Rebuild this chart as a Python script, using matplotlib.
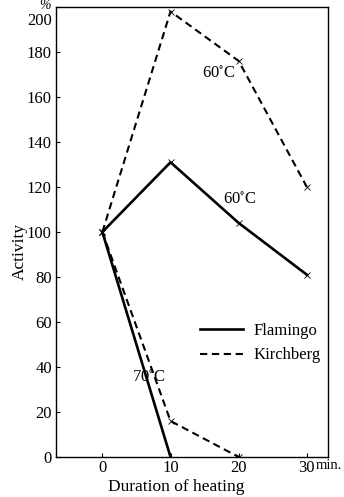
import matplotlib
matplotlib.use('Agg')
import matplotlib.pyplot as plt
from matplotlib.lines import Line2D

# data (minutes of heating vs activity %)
kirch_60_x = [0, 10, 20, 30]
kirch_60_y = [100, 198, 176, 120]
kirch_70_x = [0, 10, 20]
kirch_70_y = [100, 16, 0]
flam_60_x = [0, 10, 20, 30]
flam_60_y = [100, 131, 104, 81]
flam_70_x = [0, 10]
flam_70_y = [100, 0]

x_ticks = [0, 10, 20, 30]
y_ticks = [0, 20, 40, 60, 80, 100, 120, 140, 160, 180, 200]

plt.rcParams['font.family'] = ['Liberation Serif', 'DejaVu Serif']
plt.rcParams['font.size'] = 12
plt.rcParams['mathtext.fontset'] = 'stix'

fig = plt.figure(figsize=(3.44, 4.97), dpi=100)
ax = fig.add_axes([56 / 344, 40 / 497, 272 / 344, 450 / 497])

dash = (3.5, 2.2)
ax.plot(kirch_60_x, kirch_60_y, color='black', lw=1.5, dashes=dash,
        marker='x', ms=5, mew=0.6)
ax.plot(kirch_70_x, kirch_70_y, color='black', lw=1.5, dashes=dash,
        marker='x', ms=5, mew=0.6)
ax.plot(flam_60_x, flam_60_y, color='black', lw=1.9,
        marker='x', ms=5, mew=0.6)
ax.plot(flam_70_x, flam_70_y, color='black', lw=1.9)

ax.set_xlim(-6.8, 33.1)
ax.set_ylim(0, 200)

ax.set_xticks(x_ticks)
ax.set_xticklabels([str(v) for v in x_ticks])
ax.set_yticks(y_ticks)
ax.set_yticklabels([str(v) for v in y_ticks[:-1]] + [''])
ax.tick_params(direction='in', length=3, width=0.8, pad=3)
ax.tick_params(axis='x', pad=2.5)

# 200 label sits just under the top spine, with % above it
ax.annotate('200', xy=(0, 200), xycoords=('axes fraction', 'data'),
            xytext=(-3, -10), textcoords='offset points', ha='right', va='center')
ax.annotate('%', xy=(0, 200), xycoords=('axes fraction', 'data'),
            xytext=(-4, 1), textcoords='offset points', ha='right', va='center',
            style='italic', fontsize=10)
ax.annotate('min.', xy=(1, 0), xycoords='axes fraction',
            xytext=(-9, -6), textcoords='offset points', ha='left', va='center',
            fontsize=10.5)

for sp in ax.spines.values():
    sp.set_linewidth(1.0)

deg = '$^{\\circ}$'
ax.text(17.1, 170, '60' + deg + 'C', ha='center', va='center')
ax.text(20.2, 114.4, '60' + deg + 'C', ha='center', va='center')
ax.text(6.9, 35.2, '70' + deg + 'C', ha='center', va='center')

ax.set_xlabel('Duration of heating', fontsize=12.5)
ax.xaxis.set_label_coords((176 - 56) / 272, (457 - 487) / 450)
ax.xaxis.label.set_va('center')
ax.set_ylabel('Activity', fontsize=12.5)
ax.yaxis.set_label_coords((20 - 56) / 272, (457 - 251) / 450)
ax.yaxis.label.set_va('center')

legend_elements = [
    Line2D([0], [0], color='black', lw=1.9, label='Flamingo'),
    Line2D([0], [0], color='black', lw=1.5, dashes=dash, label='Kirchberg'),
]
ax.legend(handles=legend_elements, loc='upper left', frameon=False,
          bbox_to_anchor=((200 - 56) / 272, (457 - 323) / 450),
          borderaxespad=0, borderpad=0, handlelength=2.6, handletextpad=0.6,
          labelspacing=0.5)

fig.savefig('out.png', dpi=100)
